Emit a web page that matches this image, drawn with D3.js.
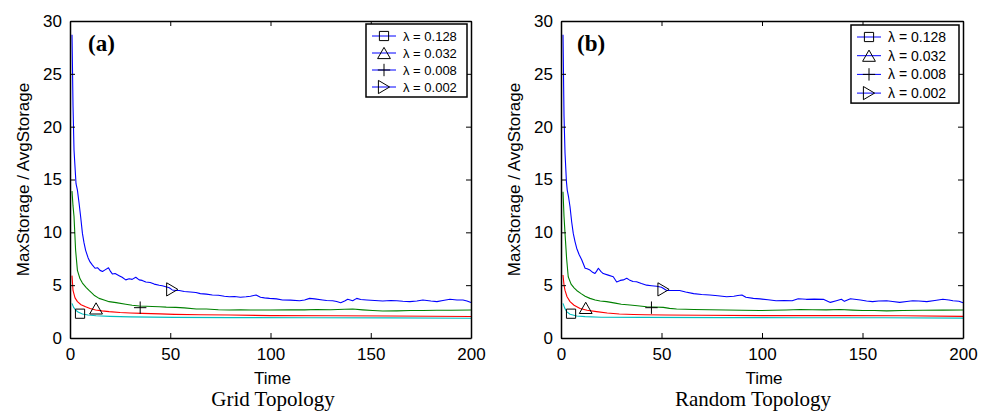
<!DOCTYPE html>
<html><head><meta charset="utf-8">
<script src="https://cdn.jsdelivr.net/npm/d3@7"></script>
<style>
html,body{margin:0;padding:0;background:#fff;}
svg{display:block;}
</style></head>
<body>
<svg id="chart" width="989" height="416"></svg>
<script>
// ---------- data ----------
const panelTags = ["(a)", "(b)"];
const panelTitles = ["Grid Topology", "Random Topology"];
const legendLabels = ["λ = 0.128", "λ = 0.032", "λ = 0.008", "λ = 0.002"];
const markerKinds = ["square", "triangle", "plus", "triright"];
const seriesColors = ["#00bfbf", "#ff0000", "#008000", "#0000ff"];
const xTicks = [0, 50, 100, 150, 200];
const yTicks = [0, 5, 10, 15, 20, 25, 30];
const xLabel = "Time";
const yLabel = "MaxStorage / AvgStorage";

// Grid topology (a)
const gridCyanT = [1,1.8,2.8,4,6.2,9,13,20,30,52,80,120,160,200];
const gridCyanV = [3.28,2.9,2.65,2.45,2.27,2.18,2.1,2.05,2.0,1.95,1.93,1.92,1.9,1.87];
const gridRedT = [1,1.5,2.5,3.7,5.5,7.8,10,12.8,16,19.5,25,30,36,45,52,65,80,100,130,160,200];
const gridRedV = [5.9,4.5,3.8,3.44,3.15,2.96,2.8,2.65,2.57,2.5,2.42,2.37,2.33,2.28,2.24,2.2,2.17,2.12,2.1,2.08,2.03];
const gridGreenT = [1,1.5,2,2.8,3.7,5,6.2,8,9.5,12,14.5,17,19.5,23,27.8,31,34.5,38,41,44.5,48,52.8,57,63,68,74,79.5,85,90,100,110,117,123,130,137,141,146,151,156,163,170,176,183,190,200];
const gridGreenV = [13.9,12.5,11.5,8.3,6.4,5.6,5.2,4.8,4.5,4.05,3.75,3.6,3.44,3.35,3.2,3.1,3.03,3.0,2.98,2.96,2.92,2.9,2.85,2.74,2.75,2.68,2.65,2.66,2.65,2.65,2.68,2.66,2.7,2.68,2.72,2.74,2.66,2.6,2.55,2.57,2.6,2.6,2.62,2.63,2.65];
const gridBlueT = [1,1.5,2,3,3.7,4.5,5.3,6.2,7,7.8,9,10,11.2,12.5,13.7,15,16.2,17.5,19.2,20.2,21.2,22.5,24.5,26,27.8,29.5,31,32.8,34.5,36,37.8,40,42,44.5,46,47.8,49.5,51,53,54.5,57,60,62.8,65,68,71,74,77,79.5,82,85,87.8,90,92.8,95,97,99.5,103,106,110,114.5,117,119.5,122,126,128,131,133,135,137,138.5,141,143,145,148,152,156,160,163,166,169.5,173,176,180,183,186,189.5,193,196,198,200];
const gridBlueV = [28.7,22,17.8,14.6,14.0,12.8,11.5,9.9,9.0,8.3,7.6,7.2,6.9,6.6,6.65,6.4,6.3,6.45,6.65,6.3,6.05,6.1,5.9,5.75,5.5,5.6,5.55,5.75,5.5,5.45,5.3,5.25,5.1,5.0,4.95,4.85,4.75,4.55,4.5,4.5,4.4,4.35,4.3,4.2,4.15,4.07,4.05,3.95,3.9,3.92,3.85,3.9,3.95,4.07,3.85,3.8,3.75,3.7,3.6,3.58,3.53,3.6,3.75,3.7,3.6,3.55,3.53,3.45,3.34,3.5,3.66,3.53,3.75,3.65,3.6,3.55,3.5,3.55,3.53,3.48,3.44,3.5,3.6,3.5,3.44,3.55,3.66,3.6,3.6,3.5,3.35];
const gridMarkT = [5, 13, 35, 51];
const gridMarkV = [2.3, 2.8, 2.87, 4.6];

// Random topology (b)
const randCyanT = [1,1.8,2.8,4.5,7.8,12,20,40,80,120,160,200];
const randCyanV = [3.28,2.85,2.5,2.25,2.08,2.02,1.97,1.95,1.93,1.92,1.91,1.88];
const randRedT = [1,1.5,2,3,4.5,6.5,9.5,13,17.7,23,29,36,42,52,70,100,140,170,200];
const randRedV = [5.96,5.0,4.5,3.9,3.44,3.1,2.8,2.62,2.5,2.37,2.27,2.23,2.2,2.18,2.15,2.12,2.12,2.1,2.05];
const randGreenT = [1,1.5,2,2.8,3.6,5,6.5,7.8,10,12,14.4,17,19.5,22.7,27,30,34.3,38,42.6,46,50.9,54,57.5,62,66,74,82,90,99,105,112,119,125,132,139,145,150,156,162,170,180,190,200];
const randGreenV = [13.85,11.5,9.9,7.5,5.8,5.1,4.75,4.5,4.2,3.95,3.75,3.6,3.5,3.44,3.3,3.2,3.12,3.05,2.96,2.93,2.9,2.8,2.74,2.72,2.7,2.68,2.65,2.63,2.6,2.62,2.65,2.7,2.68,2.66,2.7,2.64,2.6,2.6,2.57,2.6,2.62,2.64,2.65];
const randBlueT = [1,1.5,2,2.7,3.1,3.8,4.5,5.3,6.1,7,7.8,9,10.3,12,13,14.4,15.5,16.9,17.8,18.6,19.8,21,23.5,26,27.7,29.5,31,32.7,34,35.8,37.6,40,42.6,45,47.6,50,52.6,56,59,62,66,70,74,78,82.4,86,88,90,92,95.7,99,103,107,111,115,118,122,126,130.5,134,137,139.5,141,144,149,152,155,158,162,165,168.5,172,175,178,182,186,190,193,195,198,200];
const randBlueV = [28.7,21,17.5,14.8,14.0,13.3,12.4,11.0,9.9,9.1,8.5,7.9,7.4,6.6,6.55,6.43,6.25,6.1,6.35,6.6,6.3,6.1,5.95,5.8,5.3,5.45,5.5,5.65,5.5,5.35,5.33,5.15,5.0,4.95,4.9,4.8,4.5,4.5,4.5,4.35,4.2,4.12,4.07,4.0,3.9,3.95,4.02,4.07,3.85,3.75,3.7,3.62,3.53,3.55,3.53,3.72,3.66,3.68,3.66,3.37,3.53,3.66,3.47,3.72,3.6,3.5,3.44,3.5,3.53,3.45,3.37,3.45,3.53,3.5,3.44,3.55,3.66,3.6,3.53,3.48,3.34];
const randMarkT = [5, 12.3, 45, 51];
const randMarkV = [2.3, 2.85, 2.87, 4.6];

const panelSeries = [
  [[gridCyanT, gridCyanV], [gridRedT, gridRedV], [gridGreenT, gridGreenV], [gridBlueT, gridBlueV]],
  [[randCyanT, randCyanV], [randRedT, randRedV], [randGreenT, randGreenV], [randBlueT, randBlueV]]
];
const panelMarks = [[gridMarkT, gridMarkV], [randMarkT, randMarkV]];

// ---------- layout ----------
const layouts = [
  {x0: 70, x1: 471, y0: 21, y1: 338, tagX: 88, titleX: 273, legendFont: 13, legendW: 101, rowH: 17, legTop: 24},
  {x0: 561, x1: 963, y0: 21, y1: 338, tagX: 577, titleX: 753, legendFont: 14, legendW: 108, rowH: 18.7, legTop: 25}
];
const sans = "'Liberation Sans', Arial, Helvetica, sans-serif";
const serif = "'Liberation Serif', 'Times New Roman', serif";
const MS = 10; // marker size

const svg = d3.select("#chart");

function markerPath(kind, s) {
  if (kind === "square") { const h = s*0.46; return `M${-h},${-h}H${h}V${h}H${-h}Z`; }
  if (kind === "triangle") { const w = s*0.64, h = s*0.56; return `M0,${-h}L${w},${h}L${-w},${h}Z`; }
  if (kind === "plus") { const h = s*0.62; return `M${-h},0H${h}M0,${-h}V${h}`; }
  if (kind === "triright") { const w = s*0.56, h = s*0.66; return `M${-w},${-h}L${w},0L${-w},${h}Z`; }
}

layouts.forEach((L, p) => {
  const g = svg.append("g");
  const x = d3.scaleLinear().domain([0, 200]).range([L.x0, L.x1]);
  const y = d3.scaleLinear().domain([0, 30]).range([L.y1, L.y0]);

  // series lines
  const line = d3.line().x(d => x(d[0])).y(d => y(d[1]));
  panelSeries[p].forEach((s, i) => {
    const pts = s[0].map((t, k) => [t, s[1][k]]);
    g.append("path").datum(pts).attr("d", line)
      .attr("fill", "none").attr("stroke", seriesColors[i]).attr("stroke-width", 1.1)
      .attr("stroke-linejoin", "round");
  });

  // markers
  const [mT, mV] = panelMarks[p];
  mT.forEach((t, i) => {
    g.append("path").attr("d", markerPath(markerKinds[i], MS))
      .attr("transform", `translate(${x(t)},${y(mV[i])})`)
      .attr("fill", "none").attr("stroke", "#000").attr("stroke-width", 1);
  });

  // axes
  const axB = d3.axisBottom(x).tickValues(xTicks).tickSizeInner(-5).tickSizeOuter(0).tickPadding(10);
  const axL = d3.axisLeft(y).tickValues(yTicks).tickSizeInner(-5).tickSizeOuter(0).tickPadding(8);
  const axT = d3.axisTop(x).tickValues(xTicks).tickSizeInner(-5).tickSizeOuter(0).tickFormat("");
  const axR = d3.axisRight(y).tickValues(yTicks).tickSizeInner(-5).tickSizeOuter(0).tickFormat("");
  const gb = g.append("g").attr("transform", `translate(0,${L.y1})`).call(axB);
  const gl = g.append("g").attr("transform", `translate(${L.x0},0)`).call(axL);
  const gt = g.append("g").attr("transform", `translate(0,${L.y0})`).call(axT);
  const gr = g.append("g").attr("transform", `translate(${L.x1},0)`).call(axR);
  [gb, gl, gt, gr].forEach(a => {
    a.selectAll(".domain").attr("stroke", "#000").attr("stroke-width", 1.5);
    a.selectAll(".tick line").attr("stroke", "#000").attr("stroke-width", 1);
    a.selectAll("text").attr("font-family", sans).attr("font-size", 17).attr("fill", "#000");
  });

  // axis titles
  g.append("text").attr("x", (L.x0 + L.x1) / 2 + 2).attr("y", 384)
    .attr("text-anchor", "middle").attr("font-family", sans).attr("font-size", 17).text(xLabel);
  g.append("text").attr("transform", `translate(${L.x0 - 41},${(L.y0 + L.y1) / 2}) rotate(-90)`)
    .attr("text-anchor", "middle").attr("font-family", sans).attr("font-size", 17).text(yLabel);
  g.append("text").attr("x", L.titleX).attr("y", 406)
    .attr("text-anchor", "middle").attr("font-family", serif).attr("font-size", 21).text(panelTitles[p]);
  g.append("text").attr("x", L.tagX).attr("y", 51)
    .attr("font-family", serif).attr("font-weight", "bold").attr("font-size", 23).text(panelTags[p]);

  // legend
  const fs = L.legendFont, rowH = L.rowH;
  const bx = L.x1 - 4 - L.legendW, by = L.legTop;
  const bh = 12 + rowH * 3 + 10;
  const lg = g.append("g");
  lg.append("rect").attr("x", bx).attr("y", by).attr("width", L.legendW).attr("height", bh)
    .attr("fill", "#fff").attr("stroke", "#000").attr("stroke-width", 1.5);
  legendLabels.forEach((lab, i) => {
    const ry = by + 12 + i * rowH;
    lg.append("line").attr("x1", bx + 6).attr("x2", bx + 30).attr("y1", ry).attr("y2", ry)
      .attr("stroke", "#0000ff").attr("stroke-width", 1);
    lg.append("path").attr("d", markerPath(markerKinds[i], MS))
      .attr("transform", `translate(${bx + 18},${ry})`)
      .attr("fill", "none").attr("stroke", "#000").attr("stroke-width", 1);
    lg.append("text").attr("x", bx + 37).attr("y", ry).attr("dy", "0.36em")
      .attr("font-family", sans).attr("font-size", fs).text(lab);
  });
});
</script>
</body></html>
